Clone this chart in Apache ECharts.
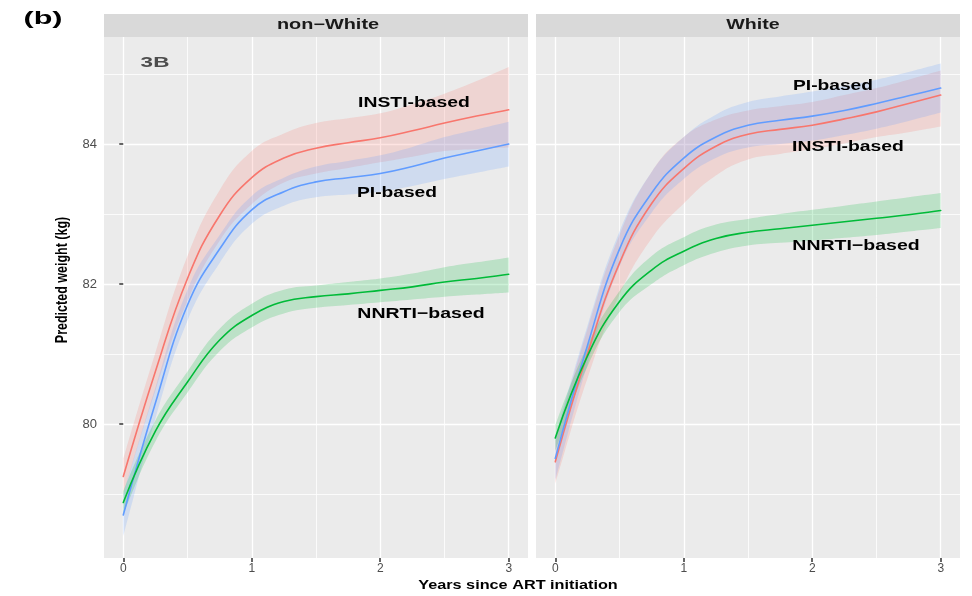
<!DOCTYPE html>
<html>
<head>
<meta charset="utf-8">
<script src="https://cdn.jsdelivr.net/npm/echarts@6/dist/echarts.min.js"></script>
<style>html,body{margin:0;padding:0;background:#fff;}#c{width:972px;height:596px;}</style>
</head>
<body>
<div id="c"></div>
<script>
// ---- data ----
const years = [0, 0.25, 0.5, 0.75, 1, 1.25, 1.5, 1.75, 2, 2.25, 2.5, 2.75, 3];
const xMajorTicks = [0, 1, 2, 3];
const xMinorTicks = [0.5, 1.5, 2.5];
const yMajorTicks = [80, 82, 84];
const yMinorTicks = [79, 81, 83, 85];
const panels = ['non\u2212White', 'White'];

// non-White
const nwInsti   = [79.25, 80.75, 82.08, 82.98, 83.52, 83.8, 83.94, 84.02, 84.09, 84.19, 84.3, 84.4, 84.49];
const nwInstiLo = [79.0, 80.48, 81.76, 82.62, 83.14, 83.45, 83.58, 83.66, 83.74, 83.82, 83.9, 83.93, 83.95];
const nwInstiHi = [79.5, 81.02, 82.4, 83.34, 83.9, 84.15, 84.3, 84.37, 84.44, 84.57, 84.72, 84.9, 85.1];
const nwPi      = [78.7, 80.3, 81.7, 82.5, 83.06, 83.32, 83.46, 83.52, 83.58, 83.68, 83.8, 83.9, 84.0];
const nwPiLo    = [78.4, 80.08, 81.48, 82.3, 82.86, 83.12, 83.24, 83.28, 83.32, 83.4, 83.5, 83.59, 83.68];
const nwPiHi    = [79.0, 80.52, 81.92, 82.7, 83.26, 83.52, 83.68, 83.76, 83.84, 83.96, 84.1, 84.21, 84.32];
const nwNnrti   = [78.88, 79.9, 80.6, 81.2, 81.55, 81.75, 81.82, 81.86, 81.91, 81.96, 82.03, 82.08, 82.14];
const nwNnrtiLo = [78.72, 79.75, 80.45, 81.04, 81.38, 81.58, 81.66, 81.7, 81.74, 81.78, 81.82, 81.85, 81.88];
const nwNnrtiHi = [79.04, 80.05, 80.75, 81.36, 81.72, 81.92, 81.98, 82.03, 82.08, 82.15, 82.24, 82.31, 82.38];

// White
const wInsti    = [79.46, 81.0, 82.3, 83.15, 83.65, 83.97, 84.14, 84.21, 84.27, 84.36, 84.46, 84.58, 84.7];
const wInstiLo  = [79.15, 80.65, 81.85, 82.65, 83.15, 83.55, 83.78, 83.86, 83.93, 84.01, 84.1, 84.17, 84.25];
const wInstiHi  = [79.75, 81.35, 82.7, 83.6, 84.1, 84.35, 84.48, 84.54, 84.6, 84.7, 84.8, 84.92, 85.05];
const wPi       = [79.51, 81.12, 82.5, 83.3, 83.8, 84.1, 84.27, 84.34, 84.4, 84.48, 84.58, 84.69, 84.8];
const wPiLo     = [79.2, 80.85, 82.25, 83.02, 83.5, 83.8, 83.95, 84.0, 84.05, 84.13, 84.22, 84.33, 84.45];
const wPiHi     = [79.8, 81.4, 82.75, 83.6, 84.1, 84.42, 84.6, 84.68, 84.75, 84.83, 84.92, 85.03, 85.15];
const wNnrti    = [79.8, 80.97, 81.75, 82.2, 82.47, 82.65, 82.74, 82.79, 82.84, 82.89, 82.94, 82.99, 83.05];
const wNnrtiLo  = [79.62, 80.82, 81.6, 82.0, 82.27, 82.45, 82.55, 82.59, 82.62, 82.66, 82.7, 82.75, 82.8];
const wNnrtiHi  = [79.98, 81.12, 81.9, 82.4, 82.67, 82.85, 82.93, 83.0, 83.06, 83.12, 83.18, 83.24, 83.3];

// ---- styling ----
const RED = '#F8766D', GREEN = '#00BA38', BLUE = '#619CFF';
const FONT = "'Liberation Sans', Arial, sans-serif";
const SMOOTH = 0.45;
const grids = [
  {left: 104, top: 37, width: 424, height: 521},
  {left: 536, top: 37, width: 424, height: 521}
];
const X_MIN = -0.15, X_MAX = 3.15, Y_MIN = 78.086, Y_MAX = 85.53;

const xAxes = [], yAxes = [];
[0, 1].forEach(g => {
  xAxes.push({
    type: 'value', gridIndex: g, min: X_MIN, max: X_MAX,
    axisLine: {show: false},
    axisTick: {show: true, customValues: xMajorTicks, length: 4, lineStyle: {color: '#333', width: 1.5}},
    axisLabel: {show: true, customValues: xMajorTicks, margin: 5, color: '#4D4D4D', fontSize: 12, fontFamily: FONT},
    splitLine: {show: true, lineStyle: {color: '#FFFFFF', width: 1.3}}
  });
  yAxes.push({
    type: 'value', gridIndex: g, min: Y_MIN, max: Y_MAX,
    axisLine: {show: false},
    axisTick: {show: g === 0, customValues: yMajorTicks, length: 4, lineStyle: {color: '#333', width: 1.5}},
    axisLabel: {show: g === 0, customValues: yMajorTicks, margin: 7, color: '#4D4D4D', fontSize: 13, fontFamily: FONT},
    splitLine: {show: true, lineStyle: {color: '#FFFFFF', width: 1.3}}
  });
});
[0, 1].forEach(g => {
  xAxes.push({
    type: 'value', gridIndex: g, min: X_MIN, max: X_MAX,
    axisLine: {show: false}, axisLabel: {show: false},
    axisTick: {show: false, customValues: xMinorTicks},
    splitLine: {show: true, lineStyle: {color: '#FFFFFF', width: 0.8}}
  });
  yAxes.push({
    type: 'value', gridIndex: g, min: Y_MIN, max: Y_MAX, position: 'left',
    axisLine: {show: false}, axisLabel: {show: false},
    axisTick: {show: false, customValues: yMinorTicks},
    splitLine: {show: true, lineStyle: {color: '#FFFFFF', width: 0.8}}
  });
});

// Smoothed path through pixel points obtained from the axes (api.coord).
function smoothSegs(pts, smooth) {
  let d = '';
  const n = pts.length;
  let cp0 = pts[0];
  for (let i = 1; i < n; i++) {
    const p = pts[i], prev = pts[i - 1], next = pts[Math.min(i + 1, n - 1)];
    const vx = next[0] - prev[0], vy = next[1] - prev[1];
    const l0 = Math.hypot(p[0] - prev[0], p[1] - prev[1]);
    const l1 = Math.hypot(next[0] - p[0], next[1] - p[1]);
    const r = (l0 + l1) > 0 ? l1 / (l0 + l1) : 0;
    const cp1 = [p[0] - vx * smooth * (1 - r), p[1] - vy * smooth * (1 - r)];
    d += ' C' + cp0[0] + ',' + cp0[1] + ' ' + cp1[0] + ',' + cp1[1] + ' ' + p[0] + ',' + p[1];
    cp0 = [p[0] + vx * smooth * r, p[1] + vy * smooth * r];
  }
  return d;
}

const series = [];
function addBand(g, lo, hi, color) {
  series.push({
    type: 'custom', xAxisIndex: g, yAxisIndex: g, silent: true, z: 1, clip: true,
    data: [[years[0], lo[0]]],
    renderItem: function (params, api) {
      const up = years.map((x, i) => api.coord([x, hi[i]]));
      const dn = years.map((x, i) => api.coord([x, lo[i]])).reverse();
      const path = 'M' + up[0][0] + ',' + up[0][1] + smoothSegs(up, SMOOTH) +
                   ' L' + dn[0][0] + ',' + dn[0][1] + smoothSegs(dn, SMOOTH) + ' Z';
      return {type: 'path', shape: {pathData: path}, style: {fill: color, opacity: 0.2}};
    }
  });
}
function addLine(g, vals, color) {
  series.push({
    type: 'custom', xAxisIndex: g, yAxisIndex: g, silent: true, z: 3, clip: true,
    data: [[years[0], vals[0]]],
    renderItem: function (params, api) {
      const pts = years.map((x, i) => api.coord([x, vals[i]]));
      const path = 'M' + pts[0][0] + ',' + pts[0][1] + smoothSegs(pts, SMOOTH);
      return {type: 'path', shape: {pathData: path},
              style: {fill: null, stroke: color, lineWidth: 1.6, lineJoin: 'round', lineCap: 'round'}};
    }
  });
}
addBand(0, nwInstiLo, nwInstiHi, RED);
addBand(0, nwPiLo, nwPiHi, BLUE);
addBand(0, nwNnrtiLo, nwNnrtiHi, GREEN);
addBand(1, wInstiLo, wInstiHi, RED);
addBand(1, wPiLo, wPiHi, BLUE);
addBand(1, wNnrtiLo, wNnrtiHi, GREEN);
addLine(0, nwInsti, RED); addLine(0, nwPi, BLUE); addLine(0, nwNnrti, GREEN);
addLine(1, wInsti, RED); addLine(1, wPi, BLUE); addLine(1, wNnrti, GREEN);

function txt(text, x, y, size, color, sx, opts) {
  return Object.assign({
    type: 'text', x: x, y: y, scaleX: sx || 1, z: 100,
    style: {text: text, fill: color, font: 'bold ' + size + 'px ' + FONT,
            align: 'center', verticalAlign: 'middle', textAlign: 'center', textVerticalAlign: 'middle'}
  }, opts || {});
}

const graphic = [
  {type: 'rect', shape: {x: 104, y: 14, width: 424, height: 23}, style: {fill: '#D9D9D9'}, z: 0},
  {type: 'rect', shape: {x: 536, y: 14, width: 424, height: 23}, style: {fill: '#D9D9D9'}, z: 0},
  txt(panels[0], 328, 25.5, 14, '#1A1A1A', 1.42),
  txt(panels[1], 753, 25.5, 14, '#1A1A1A', 1.4),
  txt('(b)', 43, 19, 18, '#000', 1.7),
  txt('3B', 155, 62.5, 15, '#4D4D4D', 1.5),
  txt('INSTI-based', 414, 102.5, 15, '#000', 1.29),
  txt('PI-based', 397, 193, 15, '#000', 1.28),
  txt('NNRTI\u2212based', 421, 314, 15, '#000', 1.3),
  txt('PI-based', 833, 86, 15, '#000', 1.28),
  txt('INSTI-based', 848, 147, 15, '#000', 1.29),
  txt('NNRTI\u2212based', 856, 246, 15, '#000', 1.3),
  txt('Years since ART initiation', 518, 585, 13, '#000', 1.25),
  txt('Predicted weight (kg)', 63, 280, 12.5, '#000', 1, {rotation: Math.PI / 2, scaleY: 1.3})
];

const chart = echarts.init(document.getElementById('c'), null, {renderer: 'canvas'});
chart.setOption({
  animation: false,
  backgroundColor: '#FFFFFF',
  grid: grids.map(g => Object.assign({show: true, backgroundColor: '#EBEBEB', borderWidth: 0}, g)),
  xAxis: xAxes,
  yAxis: yAxes,
  series: series,
  graphic: graphic
});
</script>
</body>
</html>
